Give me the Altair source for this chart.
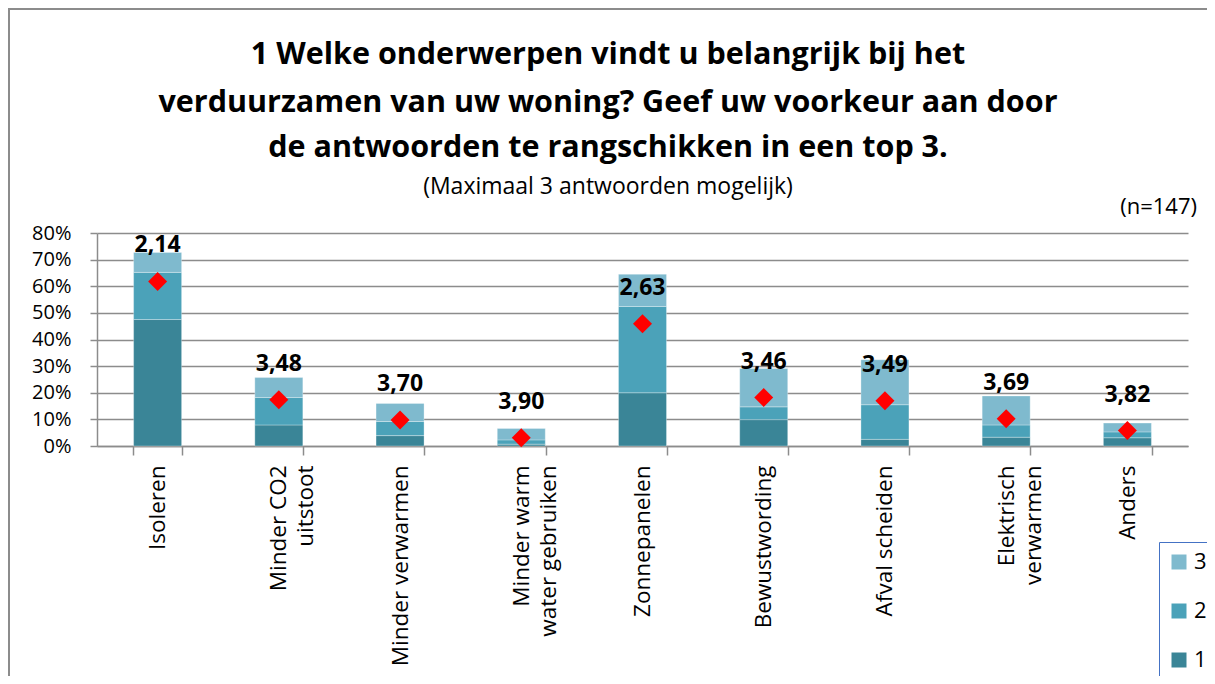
import altair as alt
import pandas as pd

categories = ["Isoleren", "Minder CO2|uitstoot", "Minder verwarmen", "Minder warm|water gebruiken",
              "Zonnepanelen", "Bewustwording", "Afval scheiden", "Elektrisch|verwarmen", "Anders"]
rank1 = [47.5, 7.9, 3.9, 0.7, 20.0, 9.9, 2.5, 3.3, 3.1]
rank2 = [17.7, 10.3, 5.3, 1.6, 32.4, 4.8, 13.0, 4.6, 2.2]
rank3 = [7.5, 7.5, 6.8, 4.3, 12.1, 14.4, 16.9, 10.9, 3.3]
diamond = [61.8, 17.4, 9.8, 3.1, 45.9, 18.2, 17.0, 10.2, 5.8]
avg_labels = ["2,14", "3,48", "3,70", "3,90", "2,63", "3,46", "3,49", "3,69", "3,82"]
y_ticks = [0, 10, 20, 30, 40, 50, 60, 70, 80]
ranks = ["3", "2", "1"]
colors = ["#7FBACE", "#4BA2B9", "#3A8597"]
title_lines = ["1 Welke onderwerpen vindt u belangrijk bij het",
               "verduurzamen van uw woning? Geef uw voorkeur aan door",
               "de antwoorden te rangschikken in een top 3."]
subtitle = "(Maximaal 3 antwoorden mogelijk)"
n_text = "(n=147)"

rows = []
for i, c in enumerate(categories):
    for r, vals in (("1", rank1), ("2", rank2), ("3", rank3)):
        rows.append({"cat": c, "rank": r, "value": vals[i]})
bars_df = pd.DataFrame(rows)
pts_df = pd.DataFrame({"cat": categories, "d": diamond, "lab": avg_labels})

FONT = "Open Sans"
W, H = 1091, 213
yscale = alt.Scale(domain=[0, 80], nice=False)
xscale = alt.Scale(paddingInner=0.6, paddingOuter=0.3)

xaxis = alt.Axis(labelAngle=-90, labelExpr="split(datum.label, '|')",
                 tickBand="extent", tickSize=9, tickColor="#8c8c8c",
                 domainColor="#8c8c8c", domainWidth=1.5, tickWidth=1.5,
                 labelFontSize=22.5, labelFont=FONT, labelColor="black", labelLimit=400,
                 labelPadding=10, labelLineHeight=27, grid=False, title=None)
yaxis = alt.Axis(values=y_ticks, labelExpr="datum.value + '%'", labelOverlap=False,
                 tickCount=9, title=None,
                 labelFontSize=20, labelFont=FONT, labelColor="black",
                 tickSize=7, tickColor="#8c8c8c", tickWidth=1.5,
                 domainColor="#8c8c8c", domainWidth=1.5, labelPadding=19,
                 grid=True, gridColor="#8c8c8c", gridWidth=1.5)


def X():
    return alt.X("cat:N", sort=categories, title=None, scale=xscale, axis=xaxis)


bars = alt.Chart(bars_df).mark_bar(size=48, stroke="white", strokeWidth=0.6, strokeOpacity=0.5).encode(
    x=X(),
    y=alt.Y("value:Q", stack="zero", title=None, scale=yscale, axis=yaxis),
    color=alt.Color("rank:N", scale=alt.Scale(domain=ranks, range=colors),
                    legend=alt.Legend(title=None, orient="none", legendX=1062, legendY=309,
                                      symbolType="square", symbolSize=225, symbolStrokeWidth=0,
                                      labelFontSize=22, labelFont=FONT, labelColor="black",
                                      rowPadding=27, padding=9, strokeColor="#4472C4",
                                      fillColor="white", labelOffset=4)),
    order=alt.Order("rank:N", sort="ascending"),
)

pts = alt.Chart(pts_df).mark_point(shape="diamond", filled=True, color="#FF0000", size=360, opacity=1).encode(
    x=X(),
    y=alt.Y("d:Q", title=None, scale=yscale, axis=yaxis),
)
labels = alt.Chart(pts_df).mark_text(dy=-36, fontSize=23, fontWeight="bold", font=FONT, color="black").encode(
    x=X(),
    y=alt.Y("d:Q", title=None, scale=yscale, axis=yaxis),
    text="lab:N",
)


def txt(s, x, y, size, weight="normal", align="center"):
    return alt.Chart(alt.Data(values=[{"t": s}])).mark_text(
        align=align, baseline="middle", fontSize=size, font=FONT, fontWeight=weight, color="black").encode(
        x=alt.value(x), y=alt.value(y), text="t:N")


texts = [
    txt(title_lines[0], 511, -178, 30.5, "bold"),
    txt(title_lines[1], 511, -130, 30.5, "bold"),
    txt(title_lines[2], 511, -85, 30.5, "bold"),
    txt(subtitle, 511, -46, 23),
    txt(n_text, 1100, -26, 22, align="right"),
]
frame = alt.Chart(alt.Data(values=[{}])).mark_rect(
    fill=None, stroke="#8c8c8c", strokeWidth=2).encode(
    x=alt.value(-88), x2=alt.value(1200), y=alt.value(-224), y2=alt.value(700))

chart = alt.layer(frame, bars, pts, labels, *texts).properties(
    width=W, height=H,
    padding={"left": 89, "top": 225, "right": 19, "bottom": 230},
    autosize=alt.AutoSizeParams(type="none"),
).configure_view(stroke=None)

chart.save("out.html", embed_options={"renderer": "svg", "actions": False})
